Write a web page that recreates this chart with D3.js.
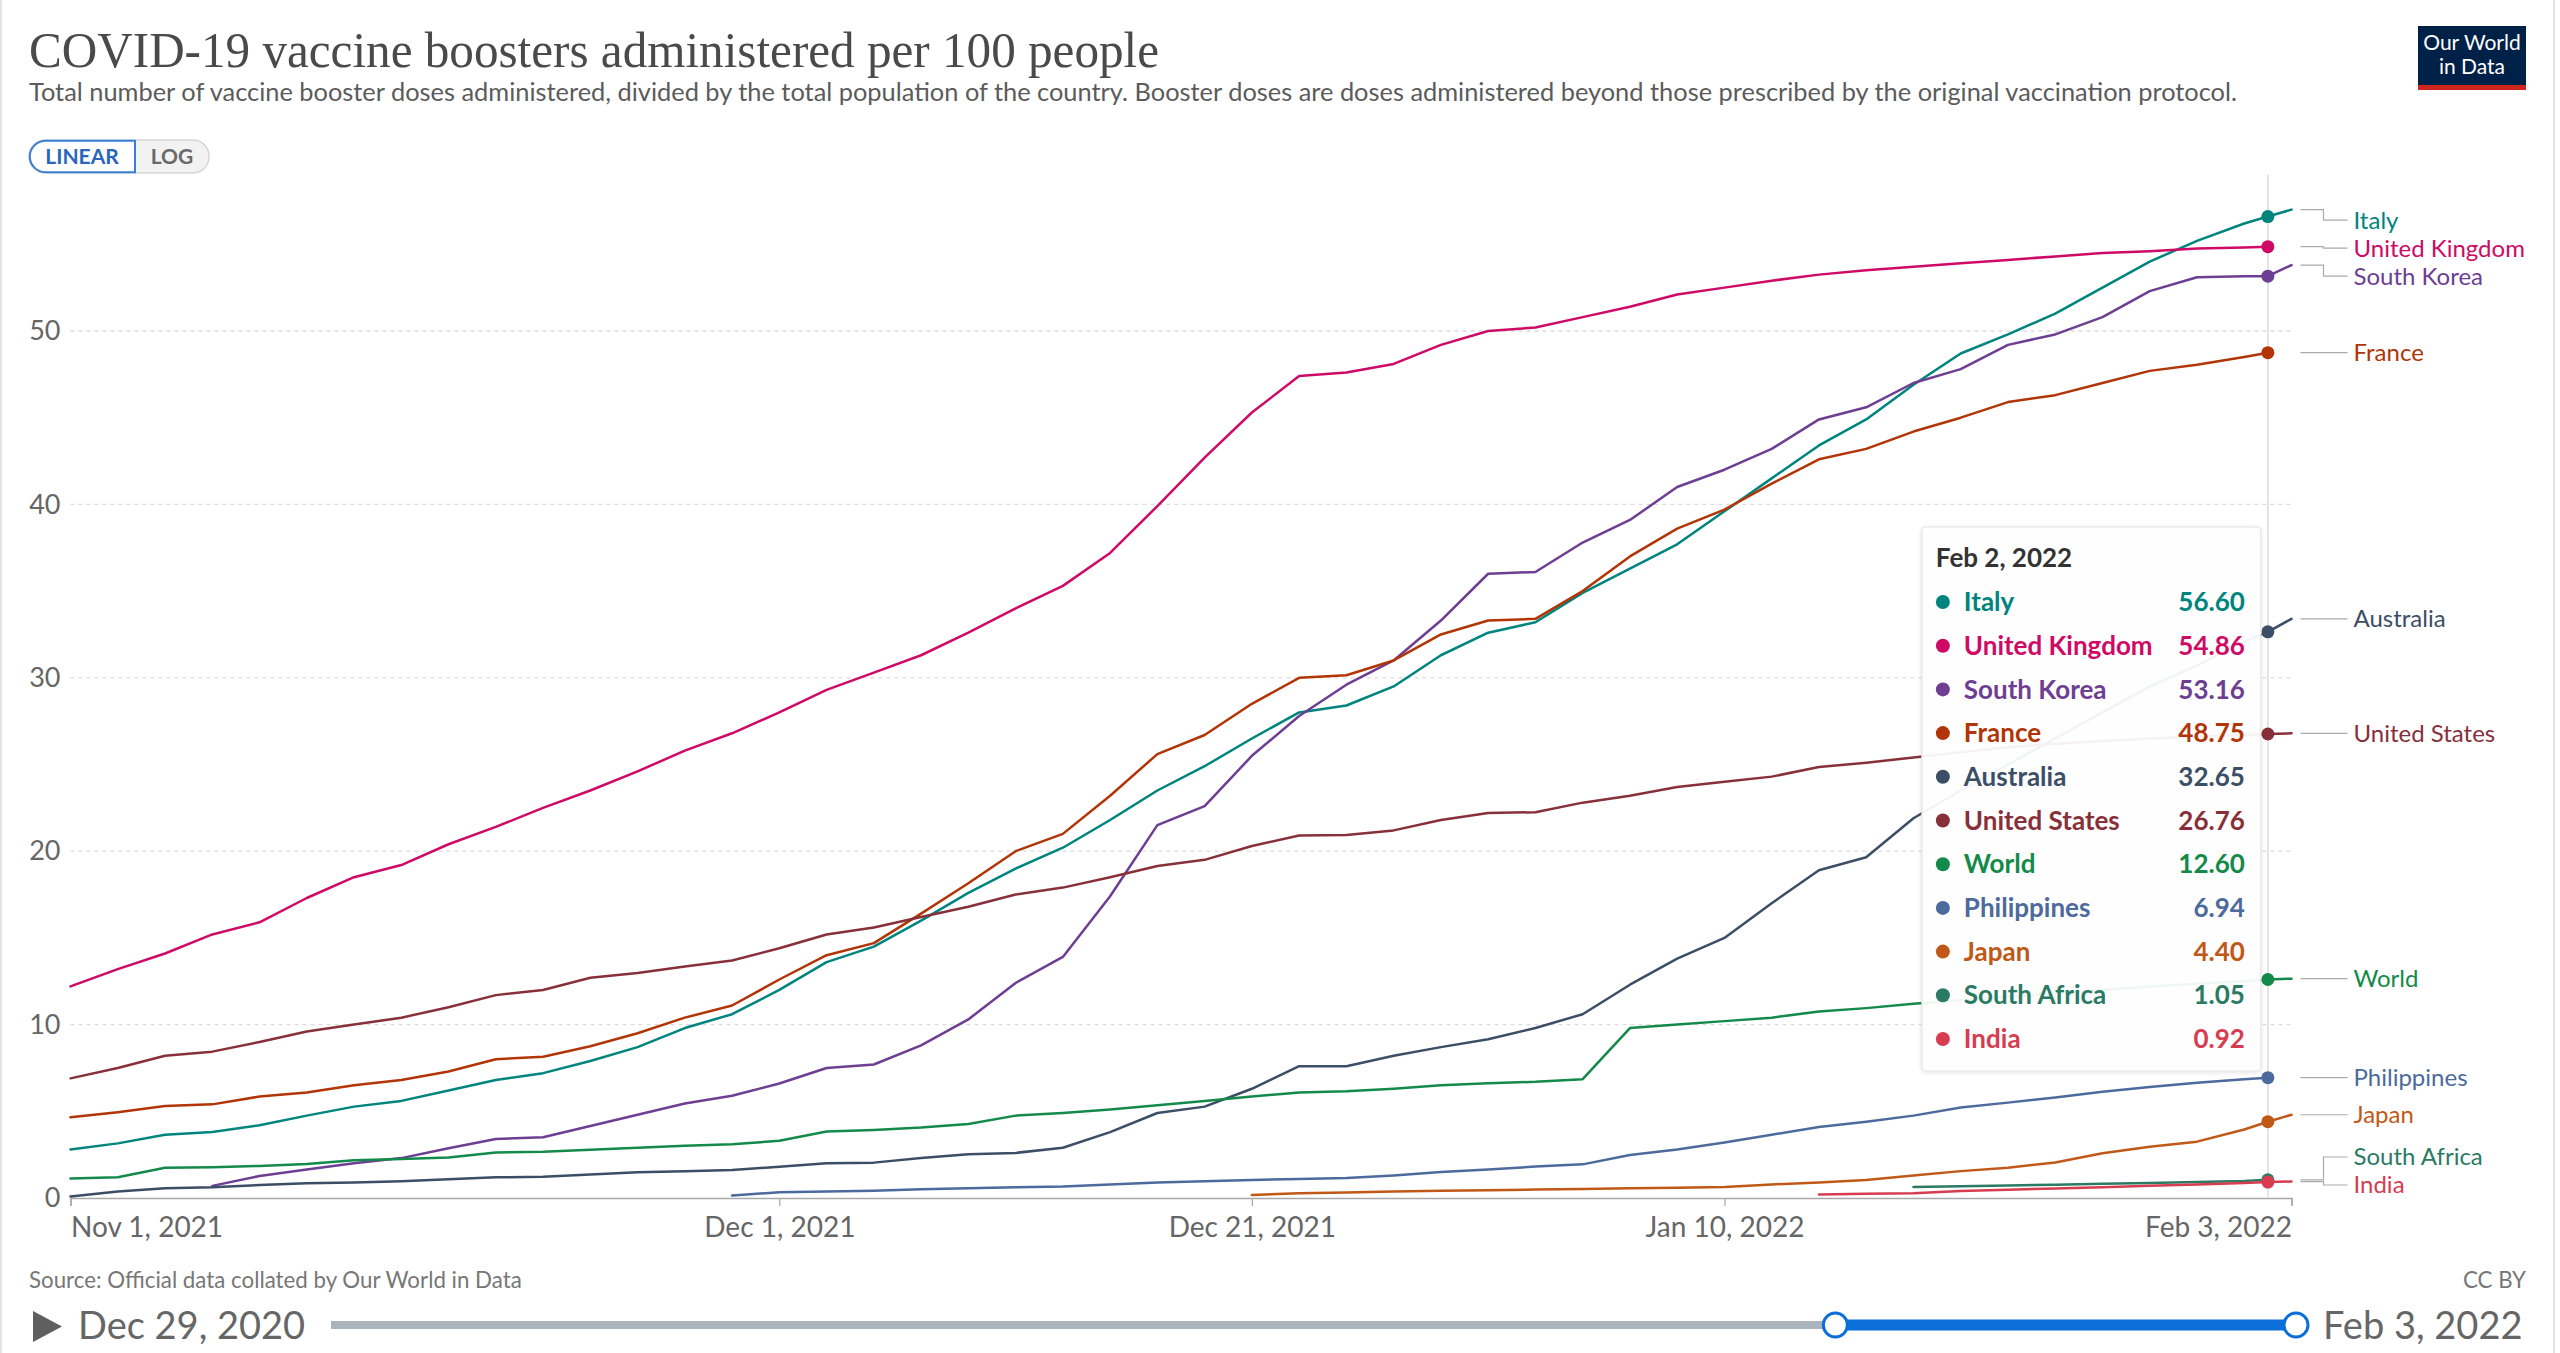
<!DOCTYPE html>
<html>
<head>
<meta charset="utf-8">
<script src="https://cdn.jsdelivr.net/npm/d3@7"></script>
<style>
  html, body { margin: 0; padding: 0; background: #fff; }
  svg text { font-family: Lato, "Noto Sans", sans-serif; }
</style>
</head>
<body>
<svg id="chart" width="2560" height="1353"></svg>
<script>
// ---------------- DATA ----------------
const dates = [
  "2021-11-01","2021-11-03","2021-11-05","2021-11-07","2021-11-09","2021-11-11","2021-11-13","2021-11-15",
  "2021-11-17","2021-11-19","2021-11-21","2021-11-23","2021-11-25","2021-11-27","2021-11-29",
  "2021-12-01","2021-12-03","2021-12-05","2021-12-07","2021-12-09","2021-12-11","2021-12-13","2021-12-15",
  "2021-12-17","2021-12-19","2021-12-21","2021-12-23","2021-12-25","2021-12-27","2021-12-29","2021-12-31",
  "2022-01-02","2022-01-04","2022-01-06","2022-01-08","2022-01-10","2022-01-12","2022-01-14","2022-01-16",
  "2022-01-18","2022-01-20","2022-01-22","2022-01-24","2022-01-26","2022-01-28","2022-01-30",
  "2022-02-01","2022-02-02","2022-02-03"
];

const italy = [
  2.8, 3.15, 3.65, 3.8, 4.2, 4.75, 5.27, 5.6, 6.2, 6.8, 7.2, 7.9, 8.7, 9.8, 10.6,
  12.0, 13.6, 14.5, 16.0, 17.6, 19.0, 20.2, 21.8, 23.5, 24.9, 26.5, 28.0, 28.4, 29.5, 31.3, 32.6,
  33.2, 34.9, 36.3, 37.7, 39.6, 41.5, 43.4, 44.9, 46.9, 48.7, 49.8, 51.0, 52.5, 54.0, 55.2,
  56.2, 56.6, 57.0
];
const unitedKingdom = [
  12.2, 13.2, 14.1, 15.2, 15.9, 17.3, 18.5, 19.2, 20.4, 21.4, 22.5, 23.5, 24.6, 25.8, 26.8,
  28.0, 29.3, 30.3, 31.3, 32.6, 34.0, 35.3, 37.2, 39.9, 42.7, 45.3, 47.4, 47.6, 48.1, 49.2, 50.0,
  50.2, 50.8, 51.4, 52.1, 52.5, 52.9, 53.25, 53.5, 53.7, 53.9, 54.1, 54.3, 54.5, 54.6, 54.75,
  54.82, 54.86, null
];
const southKorea = [
  null, null, null, 0.7, 1.27, 1.65, 2.0, 2.3, 2.87, 3.4, 3.5, 4.15, 4.8, 5.45, 5.9,
  6.6, 7.5, 7.7, 8.8, 10.3, 12.4, 13.9, 17.4, 21.5, 22.6, 25.5, 27.8, 29.6, 31.0, 33.3, 36.0,
  36.1, 37.8, 39.1, 41.0, 42.0, 43.2, 44.9, 45.6, 47.0, 47.8, 49.2, 49.8, 50.8, 52.3, 53.1,
  53.15, 53.16, 53.8
];
const france = [
  4.65, 4.95, 5.3, 5.4, 5.85, 6.08, 6.5, 6.8, 7.3, 8.0, 8.15, 8.75, 9.5, 10.4, 11.1,
  12.6, 14.0, 14.7, 16.4, 18.15, 20.0, 21.0, 23.2, 25.6, 26.7, 28.5, 30.0, 30.15, 31.0, 32.5, 33.3,
  33.4, 35.0, 37.0, 38.6, 39.7, 41.2, 42.6, 43.2, 44.2, 45.0, 45.9, 46.3, 47.0, 47.7, 48.05,
  48.5, 48.75, null
];
const australia = [
  0.08, 0.37, 0.56, 0.62, 0.75, 0.85, 0.9, 0.97, 1.08, 1.19, 1.23, 1.36, 1.48, 1.54, 1.62,
  1.8, 2.0, 2.04, 2.3, 2.52, 2.6, 2.9, 3.8, 4.9, 5.27, 6.3, 7.6, 7.6, 8.2, 8.7, 9.15,
  9.8, 10.6, 12.3, 13.8, 15.0, 17.0, 18.9, 19.65, 21.9, 23.5, 25.0, 26.5, 28.0, 29.5, 30.7,
  32.1, 32.65, 33.4
];
const unitedStates = [
  6.9, 7.5, 8.2, 8.44, 9.0, 9.6, 10.0, 10.4, 11.0, 11.7, 12.0, 12.7, 12.98, 13.35, 13.7,
  14.4, 15.2, 15.6, 16.2, 16.8, 17.5, 17.9, 18.5, 19.15, 19.5, 20.3, 20.9, 20.93, 21.2, 21.8, 22.2,
  22.25, 22.8, 23.2, 23.7, 24.0, 24.3, 24.85, 25.1, 25.4, 25.7, 26.0, 26.2, 26.35, 26.5, 26.6,
  26.7, 26.76, 26.8
];
const world = [
  1.13, 1.2, 1.75, 1.77, 1.85, 1.96, 2.18, 2.25, 2.33, 2.63, 2.67, 2.78, 2.9, 3.02, 3.1,
  3.3, 3.83, 3.92, 4.06, 4.27, 4.75, 4.9, 5.1, 5.35, 5.6, 5.85, 6.08, 6.15, 6.3, 6.5, 6.62,
  6.7, 6.85, 9.8, 10.0, 10.2, 10.4, 10.75, 10.95, 11.2, 11.4, 11.6, 11.8, 12.0, 12.2, 12.35,
  12.5, 12.6, 12.65
];
const philippines = [
  null, null, null, null, null, null, null, null, null, null, null, null, null, null, 0.15,
  0.33, 0.38, 0.42, 0.5, 0.56, 0.62, 0.66, 0.78, 0.9, 0.96, 1.04, 1.1, 1.15, 1.3, 1.5, 1.65,
  1.81, 1.94, 2.48, 2.8, 3.2, 3.65, 4.1, 4.4, 4.75, 5.22, 5.5, 5.8, 6.13, 6.4, 6.65,
  6.85, 6.94, null
];
const japan = [
  null, null, null, null, null, null, null, null, null, null, null, null, null, null, null,
  null, null, null, null, null, null, null, null, null, null, 0.18, 0.27, 0.32, 0.37, 0.42, 0.45,
  0.49, 0.52, 0.56, 0.59, 0.63, 0.78, 0.9, 1.04, 1.3, 1.55, 1.75, 2.05, 2.58, 2.95, 3.25,
  3.95, 4.4, 4.8
];
const southAfrica = [
  null, null, null, null, null, null, null, null, null, null, null, null, null, null, null,
  null, null, null, null, null, null, null, null, null, null, null, null, null, null, null, null,
  null, null, null, null, null, null, null, null, 0.64, 0.68, 0.72, 0.77, 0.82, 0.86, 0.92,
  0.98, 1.05, null
];
const india = [
  null, null, null, null, null, null, null, null, null, null, null, null, null, null, null,
  null, null, null, null, null, null, null, null, null, null, null, null, null, null, null, null,
  null, null, null, null, null, null, 0.2, 0.24, 0.27, 0.4, 0.48, 0.55, 0.62, 0.7, 0.78,
  0.86, 0.92, 0.95
];

const seriesNames = ["Italy", "United Kingdom", "South Korea", "France", "Australia", "United States",
                     "World", "Philippines", "Japan", "South Africa", "India"];
const seriesValues = [italy, unitedKingdom, southKorea, france, australia, unitedStates,
                      world, philippines, japan, southAfrica, india];
const seriesColors = ["#00847E", "#CF0A66", "#6D3E91", "#B13507", "#3C4E66", "#883039",
                      "#138A4A", "#4C6A9C", "#C05917", "#2B7A64", "#D73C50"];

const yTicks = [0, 10, 20, 30, 40, 50];
const xTickDates = ["2021-11-01", "2021-12-01", "2021-12-21", "2022-01-10", "2022-02-03"];
const xTickLabels = ["Nov 1, 2021", "Dec 1, 2021", "Dec 21, 2021", "Jan 10, 2022", "Feb 3, 2022"];
const hoverDate = "2022-02-02";
const hoverLabel = "Feb 2, 2022";
const timelineStart = "2020-12-29", timelineStartLabel = "Dec 29, 2020";
const timelineEndLabel = "Feb 3, 2022";

// ---------------- CHART ----------------
const svg = d3.select("#chart");
const W = 2560, H = 1353;
const parse = d3.timeParse("%Y-%m-%d");
const D = dates.map(parse);

const series = seriesNames.map((name, i) => ({
  name, color: seriesColors[i],
  points: D.map((d, j) => ({ date: d, value: seriesValues[i][j] }))
}));

const margin = { left: 70.5, right: 2291.5, top: 209.6, bottom: 1198 };
const x = d3.scaleTime().domain(d3.extent(D)).range([margin.left, margin.right]);
const yMax = d3.max(seriesValues.flat().filter(v => v != null));
const y = d3.scaleLinear().domain([0, yMax]).range([margin.bottom, margin.top]);

// frame side borders
svg.append("line").attr("x1", 1).attr("x2", 1).attr("y1", 0).attr("y2", H).attr("stroke", "#e2e2e2").attr("stroke-width", 2);
svg.append("line").attr("x1", W - 6).attr("x2", W - 6).attr("y1", 0).attr("y2", H).attr("stroke", "#e2e2e2").attr("stroke-width", 2);

// Title & subtitle
svg.append("text").attr("x", 29).attr("y", 67)
  .style("font-family", "'Liberation Serif', 'DejaVu Serif', serif")
  .attr("font-size", 51).attr("fill", "#4a4a4a")
  .attr("textLength", 1130).attr("lengthAdjust", "spacingAndGlyphs")
  .text("COVID-19 vaccine boosters administered per 100 people");

svg.append("text").attr("x", 29).attr("y", 101)
  .attr("font-size", 24.5).attr("fill", "#5b5b5b")
  .attr("textLength", 2208).attr("lengthAdjust", "spacingAndGlyphs")
  .text("Total number of vaccine booster doses administered, divided by the total population of the country. Booster doses are doses administered beyond those prescribed by the original vaccination protocol.");

// LINEAR / LOG toggle
const tg = svg.append("g");
tg.append("rect").attr("x", 29).attr("y", 140).attr("width", 180).attr("height", 33).attr("rx", 16)
  .attr("fill", "#f2f2f2").attr("stroke", "#d6d6d6").attr("stroke-width", 1.5);
tg.append("path")
  .attr("d", "M135,140.75 H45 A16,16 0 0 0 29.75,156.5 A16,16 0 0 0 45,172.25 H135 Z")
  .attr("fill", "#fff").attr("stroke", "#3b7fd4").attr("stroke-width", 2);
tg.append("text").attr("x", 82).attr("y", 164).attr("text-anchor", "middle")
  .attr("font-size", 21).attr("font-weight", 700).attr("fill", "#2a66bd").text("LINEAR");
tg.append("text").attr("x", 172).attr("y", 164).attr("text-anchor", "middle")
  .attr("font-size", 21).attr("font-weight", 700).attr("fill", "#6a6a6a").text("LOG");

// Logo
const lg = svg.append("g");
lg.append("rect").attr("x", 2418).attr("y", 26).attr("width", 108).attr("height", 64).attr("fill", "#002147");
lg.append("rect").attr("x", 2418).attr("y", 85).attr("width", 108).attr("height", 5).attr("fill", "#ce261e");
lg.append("text").attr("x", 2472).attr("y", 50).attr("text-anchor", "middle").attr("font-size", 21).attr("fill", "#fff").text("Our World");
lg.append("text").attr("x", 2472).attr("y", 74).attr("text-anchor", "middle").attr("font-size", 21).attr("fill", "#fff").text("in Data");

// Gridlines
svg.append("g").selectAll("line").data(yTicks.filter(t => t > 0)).join("line")
  .attr("x1", margin.left).attr("x2", margin.right)
  .attr("y1", d => y(d)).attr("y2", d => y(d))
  .attr("stroke", "#dcdcdc").attr("stroke-width", 1.3).attr("stroke-dasharray", "4,4");

// Y axis labels
const yAxis = svg.append("g").attr("transform", `translate(${margin.left},0)`)
  .call(d3.axisLeft(y).tickValues(yTicks).tickSize(0).tickPadding(10).tickFormat(d3.format("d")));
yAxis.select(".domain").remove();
yAxis.selectAll("text").attr("font-size", 27).attr("fill", "#666").style("font-family", "Lato, sans-serif");

// X axis
const xAxis = svg.append("g").attr("transform", `translate(0,${margin.bottom})`)
  .call(d3.axisBottom(x).tickValues(xTickDates.map(parse)).tickSize(8).tickPadding(11)
    .tickFormat((d, i) => xTickLabels[i]));
xAxis.select(".domain").attr("stroke", "#a8a8a8").attr("stroke-width", 1.5);
xAxis.selectAll(".tick line").attr("stroke", "#a8a8a8").attr("stroke-width", 1.2);
xAxis.selectAll("text").attr("font-size", 28).attr("fill", "#666").style("font-family", "Lato, sans-serif")
  .attr("text-anchor", (d, i, n) => i === 0 ? "start" : (i === n.length - 1 ? "end" : "middle"));

// Hover vertical line
const hd = parse(hoverDate);
const hIdx = dates.indexOf(hoverDate);
svg.append("line").attr("x1", x(hd)).attr("x2", x(hd)).attr("y1", margin.top - 35).attr("y2", margin.bottom)
  .attr("stroke", "#dcdcdc").attr("stroke-width", 1.5);

// Lines
const line = d3.line().defined(p => p.value != null).x(p => x(p.date)).y(p => y(p.value));
svg.append("g").selectAll("path").data(series).join("path")
  .attr("d", s => line(s.points))
  .attr("fill", "none").attr("stroke", s => s.color).attr("stroke-width", 2.5)
  .attr("stroke-linejoin", "round").attr("stroke-linecap", "round");

// Hover dots
svg.append("g").selectAll("circle").data(series.filter(s => s.points[hIdx].value != null)).join("circle")
  .attr("cx", x(hd)).attr("cy", s => y(s.points[hIdx].value)).attr("r", 6.5).attr("fill", s => s.color);

// Right-side labels with collision avoidance
const gap = 28;
const minY = margin.top + 10.5, maxY = margin.bottom - 13;
const items = series.map(s => {
  const last = s.points.filter(p => p.value != null).slice(-1)[0];
  return { name: s.name, color: s.color, target: y(last.value) };
}).sort((a, b) => a.target - b.target);
let groups = items.map(it => ({ items: [it] }));
function place(g) {
  const n = g.items.length;
  let top = d3.mean(g.items, it => it.target) - (n - 1) * gap / 2;
  if (top < minY) top = minY;
  if (top + (n - 1) * gap > maxY) top = maxY - (n - 1) * gap;
  g.top = top;
}
let changed = true;
while (changed) {
  changed = false;
  groups.forEach(place);
  for (let i = 1; i < groups.length; i++) {
    const prev = groups[i - 1];
    if (groups[i].top < prev.top + prev.items.length * gap - 0.01) {
      prev.items = prev.items.concat(groups[i].items);
      groups.splice(i, 1);
      changed = true;
      break;
    }
  }
}
groups.forEach(g => g.items.forEach((it, k) => it.labelY = g.top + k * gap));

const lx0 = margin.right + 9, lxElbow = margin.right + 32, lx1 = margin.right + 56, labelX = margin.right + 62;
svg.append("g").selectAll("path").data(items).join("path")
  .attr("d", it => `M${lx0},${it.target} H${lxElbow} V${it.labelY} H${lx1}`)
  .attr("fill", "none").attr("stroke", "#aaa").attr("stroke-width", 1.2);
svg.append("g").selectAll("text").data(items).join("text")
  .attr("x", labelX).attr("y", it => it.labelY).attr("dy", "0.35em")
  .attr("font-size", 24).attr("fill", it => it.color).text(it => it.name);

// Tooltip
const defs = svg.append("defs");
const f = defs.append("filter").attr("id", "shadow").attr("x", "-10%").attr("y", "-10%").attr("width", "120%").attr("height", "120%");
f.append("feDropShadow").attr("dx", 0).attr("dy", 1).attr("stdDeviation", 2).attr("flood-color", "#000").attr("flood-opacity", 0.12);

const ttRight = x(hd) - 7, ttW = 339, ttLeft = ttRight - ttW, ttTop = 527, ttH = 544;
const tt = svg.append("g");
tt.append("rect").attr("x", ttLeft).attr("y", ttTop).attr("width", ttW).attr("height", ttH).attr("rx", 4)
  .attr("fill", "#fff").attr("fill-opacity", 0.93).attr("stroke", "#e4e4e4").attr("stroke-width", 1.2)
  .attr("filter", "url(#shadow)");
tt.append("text").attr("x", ttLeft + 14).attr("y", ttTop + 40).attr("font-size", 26).attr("font-weight", 700)
  .attr("fill", "#333").text(hoverLabel);
const ttRows = series.filter(s => s.points[hIdx].value != null)
  .sort((a, b) => b.points[hIdx].value - a.points[hIdx].value);
const rowY = (i) => ttTop + 75 + i * 43.7;
const rows = tt.selectAll("g.row").data(ttRows).join("g").attr("class", "row");
rows.append("circle").attr("cx", ttLeft + 21).attr("cy", (s, i) => rowY(i)).attr("r", 7).attr("fill", s => s.color);
rows.append("text").attr("x", ttLeft + 42).attr("y", (s, i) => rowY(i)).attr("dy", "0.35em")
  .attr("font-size", 26).attr("font-weight", 700).attr("fill", s => s.color).text(s => s.name);
rows.append("text").attr("x", ttRight - 16).attr("y", (s, i) => rowY(i)).attr("dy", "0.35em").attr("text-anchor", "end")
  .attr("font-size", 26).attr("font-weight", 700).attr("fill", s => s.color)
  .text(s => d3.format(".2f")(s.points[hIdx].value));

// Source & license
svg.append("text").attr("x", 29).attr("y", 1288).attr("font-size", 22.3).attr("fill", "#777")
  .text("Source: Official data collated by Our World in Data");
svg.append("text").attr("x", 2526).attr("y", 1288).attr("text-anchor", "end").attr("font-size", 22.3).attr("fill", "#777")
  .text("CC BY");

// Timeline
const tl = d3.scaleTime().domain([parse(timelineStart), d3.max(D)]).range([331, 2296]);
const tlY = 1325;
svg.append("path").attr("d", `M33,1311 L62,1326.5 L33,1342 Z`).attr("fill", "#5f5f5f");
svg.append("text").attr("x", 78).attr("y", 1339).attr("font-size", 38).attr("fill", "#666").text(timelineStartLabel);
svg.append("line").attr("x1", tl.range()[0]).attr("x2", tl.range()[1]).attr("y1", tlY).attr("y2", tlY)
  .attr("stroke", "#aab4bd").attr("stroke-width", 8);
svg.append("line").attr("x1", tl(D[0])).attr("x2", tl(d3.max(D))).attr("y1", tlY).attr("y2", tlY)
  .attr("stroke", "#0a6fd8").attr("stroke-width", 11);
svg.append("g").selectAll("circle").data([D[0], d3.max(D)]).join("circle")
  .attr("cx", d => tl(d)).attr("cy", tlY).attr("r", 12)
  .attr("fill", "#fff").attr("stroke", "#0a6fd8").attr("stroke-width", 3);
svg.append("text").attr("x", 2323).attr("y", 1339).attr("font-size", 38).attr("fill", "#666").text(timelineEndLabel);
</script>
</body>
</html>
